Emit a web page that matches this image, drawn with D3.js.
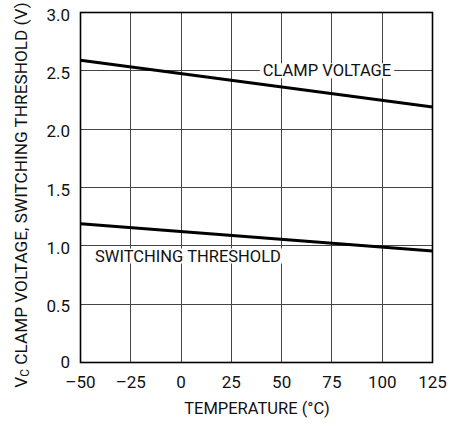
<!DOCTYPE html>
<html><head><meta charset="utf-8">
<script src="https://cdn.jsdelivr.net/npm/d3@7"></script>
<style>body{margin:0;background:#fff}svg{display:block}text{font-family:Roboto,"Liberation Sans",sans-serif;fill:#111}</style>
</head><body><svg id="c" width="460" height="423"></svg>
<script>
const temps = [-50, 125];
const clampVoltage = [2.59, 2.19];
const switchingThreshold = [1.19, 0.955];
const xTicks = [-50, -25, 0, 25, 50, 75, 100, 125];
const yTicks = [0, 0.5, 1.0, 1.5, 2.0, 2.5, 3.0];

const svg = d3.select("#c");
const L = 80.5, R = 432.5, T = 12.5, B = 362.5;
const x = d3.scaleLinear().domain([-50, 125]).range([L, R]);
const y = d3.scaleLinear().domain([0, 3]).range([B, T]);
const px = v => Math.round(v - 0.5) + 0.5;

const g = svg.append("g");
g.selectAll("line.vx").data(xTicks.slice(1, -1)).join("line")
  .attr("x1", d => px(x(d))).attr("x2", d => px(x(d))).attr("y1", T).attr("y2", B)
  .attr("stroke", "#444").attr("stroke-width", 1);
g.selectAll("line.hy").data(yTicks.slice(1, -1)).join("line")
  .attr("y1", d => px(y(d))).attr("y2", d => px(y(d))).attr("x1", L).attr("x2", R)
  .attr("stroke", "#444").attr("stroke-width", 1);

const line = d3.line().x((d, i) => x(temps[i])).y(d => y(d));
g.append("path").datum(clampVoltage).attr("d", line).attr("fill", "none").attr("stroke", "#000").attr("stroke-width", 3);
g.append("path").datum(switchingThreshold).attr("d", line).attr("fill", "none").attr("stroke", "#000").attr("stroke-width", 3);

function label(txt, xc, yc) {
  const t = g.append("text").attr("x", xc).attr("y", yc).attr("text-anchor", "middle")
    .attr("dominant-baseline", "central").attr("font-size", 16.5).text(txt);
  const bb = t.node().getBBox();
  g.insert("rect", () => t.node()).attr("x", bb.x - 3).attr("y", bb.y + 2).attr("width", bb.width + 6).attr("height", bb.height - 4).attr("fill", "#fff");
}
label("CLAMP VOLTAGE", 327, y(2.5));
label("SWITCHING THRESHOLD", 188, 256);

g.append("rect").attr("x", L).attr("y", T).attr("width", R - L).attr("height", B - T)
  .attr("fill", "none").attr("stroke", "#000").attr("stroke-width", 1.6);

const fmtY = d => d === 0 ? "0" : d.toFixed(1);
svg.append("g").selectAll("text").data(yTicks).join("text")
  .attr("x", 70).attr("y", d => y(d) + (d === 0 ? -1 : 2)).attr("text-anchor", "end").attr("dominant-baseline", "central")
  .attr("font-size", 17).text(fmtY);
svg.append("g").selectAll("text").data(xTicks).join("text")
  .attr("x", d => x(d)).attr("y", 382).attr("text-anchor", "middle").attr("dominant-baseline", "central")
  .attr("font-size", 17).text(d => d < 0 ? "\u2013" + Math.abs(d) : d);

svg.append("text").attr("x", 257).attr("y", 408).attr("text-anchor", "middle").attr("dominant-baseline", "central")
  .attr("font-size", 16.5).text("TEMPERATURE (\u00B0C)");

const yt = svg.append("text").attr("transform", `translate(21,195) rotate(-90)`)
  .attr("text-anchor", "middle").attr("dominant-baseline", "central").attr("font-size", 17.2);
yt.append("tspan").text("V");
yt.append("tspan").attr("font-size", 12).attr("dy", 4).text("C");
yt.append("tspan").attr("dy", -4).text(" CLAMP VOLTAGE, SWITCHING THRESHOLD (V)");
</script></body></html>
